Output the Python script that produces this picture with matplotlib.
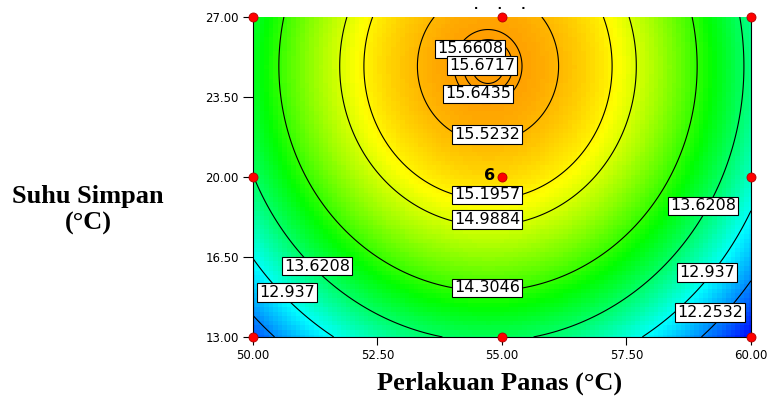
import numpy as np
import matplotlib.pyplot as plt
from matplotlib.colors import LinearSegmentedColormap, Normalize

# quadratic response model in coded factors (A = heat treatment, B = storage temp)
b0 = 15.34
bA = -0.218
bB = 0.964
bAA = -1.95
bBB = -0.696
bAB = 0.0

# contour levels shown on the plot
levels = [12.2532, 12.937, 13.6208, 14.3046, 14.9884, 15.1957, 15.5232, 15.6435, 15.6608, 15.6717]

# label placement (value, x, y)
label_values = [15.6608, 15.6717, 15.6435, 15.5232, 15.1957, 14.9884, 14.3046,
                13.6208, 12.937, 13.6208, 12.937, 12.2532]
label_x = [54.36, 54.60, 54.52, 54.70, 54.70, 54.70, 54.70, 51.29, 50.68, 59.04, 59.12, 59.18]
label_y = [25.60, 24.86, 23.63, 21.84, 19.21, 18.12, 15.14, 16.10, 14.93, 18.73, 15.80, 14.05]

# design points
design_x = [50, 55, 60, 50, 55, 60, 50, 55, 60]
design_y = [13, 13, 13, 20, 20, 20, 27, 27, 27]
center_runs = 6

xticks = [50, 52.5, 55, 57.5, 60]
yticks = [13, 16.5, 20, 23.5, 27]


def response(x, y):
    a = (x - 55) / 5
    b = (y - 20) / 7
    return b0 + bA * a + bB * b + bAB * a * b + bAA * a ** 2 + bBB * b ** 2


# blue -> cyan -> green -> yellow -> red colour scale
lo, hi = 11.5, 16.5
nodes = [(11.5, (0, 0, 1)), (12.9, (0, 1, 1)), (14.1, (0, 1, 0)),
         (15.15, (1, 1, 0)), (16.5, (1, 0, 0))]
cmap = LinearSegmentedColormap.from_list(
    'de', [((v - lo) / (hi - lo), c) for v, c in nodes])
norm = Normalize(lo, hi)

fig = plt.figure(figsize=(7.71, 4.03), dpi=100)
ax = fig.add_axes([0.328, 0.164, 0.646, 0.794])

# shaded surface in coarse cells
xc = np.linspace(50, 60, 111)
yc = np.linspace(13, 27, 71)
XC, YC = np.meshgrid(xc, yc)
ax.pcolormesh(XC, YC, response(XC, YC), cmap=cmap, norm=norm, shading='nearest')

# contour lines on a fine grid
xf = np.linspace(50, 60, 400)
yf = np.linspace(13, 27, 400)
XF, YF = np.meshgrid(xf, yf)
ax.contour(XF, YF, response(XF, YF), levels=levels, colors='black', linewidths=0.8)

for v, lx, ly in zip(label_values, label_x, label_y):
    ax.text(lx, ly, f'{v:g}', ha='center', va='center', fontsize=11.5,
            bbox=dict(boxstyle='square,pad=0.12', fc='white', ec='black', lw=0.8),
            zorder=5, clip_on=True)

ax.plot(design_x, design_y, 'o', ms=6.5, mfc='red', mec='#b00000', mew=0.6,
        clip_on=False, zorder=6)
ax.annotate(str(center_runs), (55, 20), xytext=(-5, 1), textcoords='offset points',
            ha='right', va='center', fontsize=11.5, fontweight='bold')

ax.set_xlim(50, 60)
ax.set_ylim(13, 27)
ax.set_xticks(xticks)
ax.set_xticklabels([f'{t:.2f}' for t in xticks])
ax.set_yticks(yticks)
ax.set_yticklabels([f'{t:.2f}' for t in yticks])
ax.tick_params(axis='x', direction='out', length=6, width=0.8, labelsize=8.5, pad=3)
ax.tick_params(axis='y', direction='out', length=7, width=0.8, labelsize=8.5, pad=3)
ax.spines['top'].set_visible(False)
for s in ['left', 'right', 'bottom']:
    ax.spines[s].set_linewidth(0.8)

fig.text(0.114, 0.48, 'Suhu Simpan\n(°C)', ha='center', va='center', fontsize=19,
         fontweight='bold', family='Liberation Serif', linespacing=1.2)
fig.text(0.648, 0.048, 'Perlakuan Panas (°C)', ha='center', va='center', fontsize=19,
         fontweight='bold', family='Liberation Serif')
fig.text(0.648, 0.985, '.     .     .', ha='center', va='center', fontsize=8,
         fontweight='bold')

fig.savefig('out.png', dpi=100)
